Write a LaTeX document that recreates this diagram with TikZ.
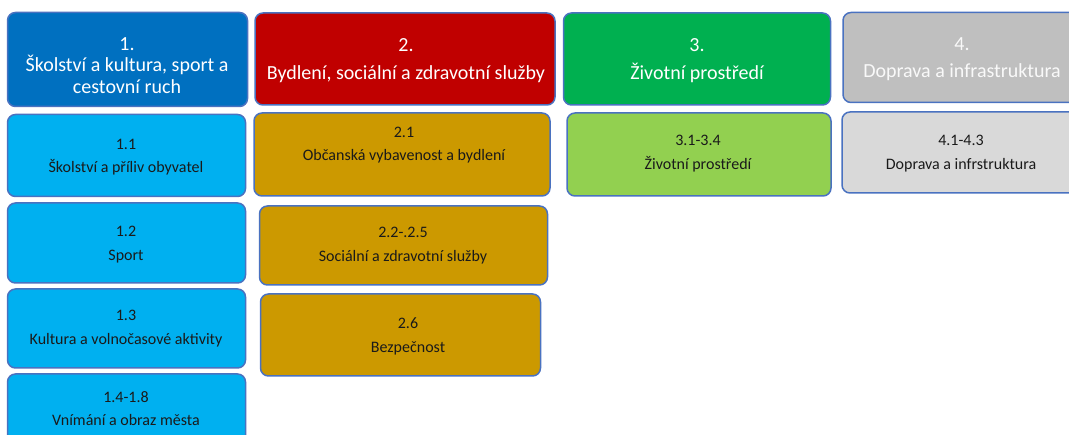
\documentclass[tikz,border=0pt]{standalone}
\usepackage{fontspec}
\setmainfont{Carlito}
\definecolor{bord}{HTML}{4A72C0}
\definecolor{h1c}{HTML}{0070C0}
\definecolor{h2c}{HTML}{C00000}
\definecolor{h3c}{HTML}{00B050}
\definecolor{h4c}{HTML}{BFBFBF}
\definecolor{s1c}{HTML}{00B0F0}
\definecolor{s2c}{HTML}{CC9900}
\definecolor{s3c}{HTML}{92D050}
\definecolor{s4c}{HTML}{D9D9D9}
\definecolor{txt}{HTML}{1A1A1A}
\tikzset{
  box/.style={draw=bord, line width=1.5pt, rounded corners=8pt, inner sep=0pt},
  hdrtxt/.style={align=center, inner sep=0pt, text=white, font=\fontsize{20}{21.5}\selectfont},
  subtxt/.style={align=center, inner sep=0pt, text=txt, font=\fontsize{16}{23.5}\selectfont},
}
\begin{document}
\begin{tikzpicture}[x=1pt,y=-1pt]
\useasboundingbox (0,0) rectangle (1069,435);
\clip (0,0) rectangle (1069,435);
% headers
\node[box, fill=h1c, minimum width=240pt, minimum height=94pt] (h1) at (127.5,59.5) {};
\node[hdrtxt] (h1t) at (127,65.5) {1.\\Školství a kultura, sport a\\cestovní ruch};
\node[box, fill=h2c, minimum width=300pt, minimum height=92pt] (h2) at (405,59) {};
\node[hdrtxt] (h2t) at (406,60.5) {2.\\[6pt]Bydlení, sociální a zdravotní služby};
\node[box, fill=h3c, minimum width=267pt, minimum height=92pt] (h3) at (697,59) {};
\node[hdrtxt] (h3t) at (697,60.5) {3.\\[6pt]Životní prostředí};
\node[box, fill=h4c, minimum width=238pt, minimum height=90pt] (h4) at (962,57.5) {};
\node[hdrtxt, text=white!90!h4c] (h4t) at (962,59) {4.\\[6pt]Doprava a infrastruktura};
% column 1
\node[box, fill=s1c, minimum width=238pt, minimum height=82pt] (s11) at (126.5,155.5) {};
\node[subtxt] (s11t) at (126,157) {1.1\\Školství a příliv obyvatel};
\node[box, fill=s1c, minimum width=238pt, minimum height=80pt] (s12) at (126.5,243) {};
\node[subtxt] (s12t) at (126,244.5) {1.2\\Sport};
\node[box, fill=s1c, minimum width=238pt, minimum height=79pt] (s13) at (126.5,328.5) {};
\node[subtxt] (s13t) at (126,328.5) {1.3\\Kultura a volnočasové aktivity};
\node[box, fill=s1c, minimum width=238pt, minimum height=80pt] (s14) at (126.5,414) {};
\node[subtxt] (s14t) at (126,408.5) {1.4-1.8\\Vnímání a obraz města};
% column 2
\node[box, fill=s2c, minimum width=296pt, minimum height=83pt] (s21) at (402,154.5) {};
\node[subtxt] (s21t) at (404,145) {2.1\\Občanská vybavenost a bydlení};
\node[box, fill=s2c, minimum width=288pt, minimum height=79pt] (s22) at (403.5,245.5) {};
\node[subtxt] (s22t) at (403,245.5) {2.2-.2.5\\Sociální a zdravotní služby};
\node[box, fill=s2c, minimum width=280pt, minimum height=82pt] (s26) at (400.5,335) {};
\node[subtxt] (s26t) at (408,336.5) {2.6\\Bezpečnost};
% column 3
\node[box, fill=s3c, minimum width=264pt, minimum height=83pt] (s31) at (699,154.5) {};
\node[subtxt] (s31t) at (698,153.5) {3.1-3.4\\Životní prostředí};
% column 4
\node[box, fill=s4c, minimum width=236pt, minimum height=81pt] (s41) at (960,152.5) {};
\node[subtxt] (s41t) at (961,153.5) {4.1-4.3\\Doprava a infrstruktura};
\end{tikzpicture}
\end{document}
